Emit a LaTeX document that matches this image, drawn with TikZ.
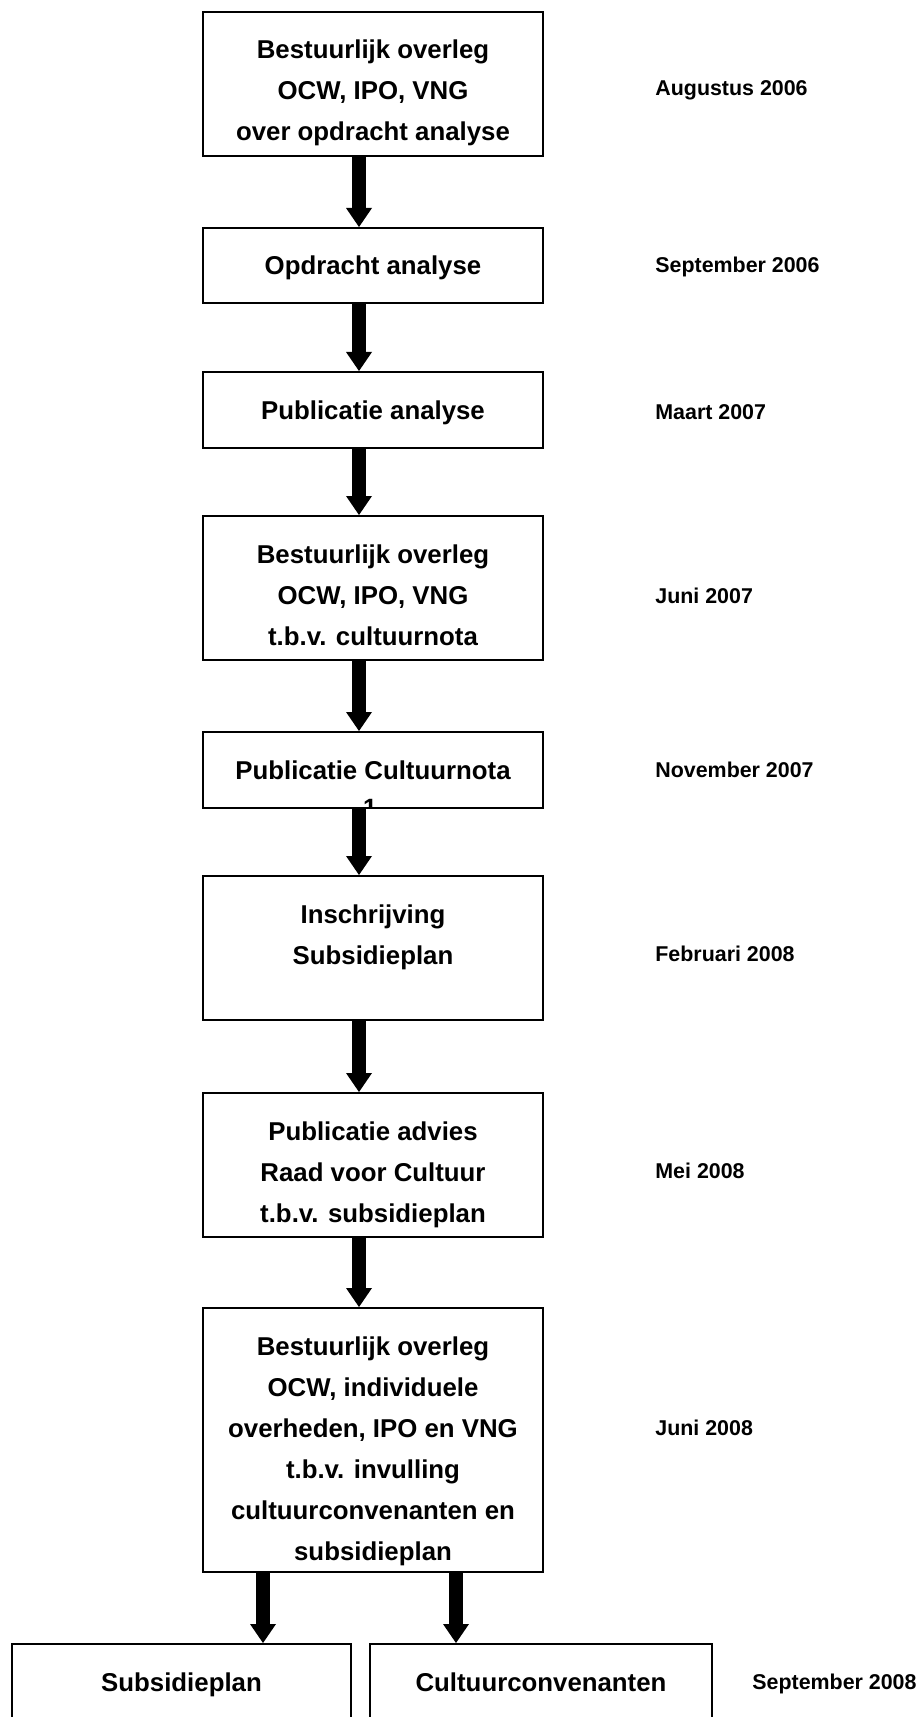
\documentclass[tikz,border=0pt]{standalone}
\usepackage{fontspec}
\setmainfont{Liberation Sans}
\usetikzlibrary{arrows.meta}
\newcommand{\vak}[3][170pt]{\parbox[c][#2][t]{#1}{\centering\rule{0pt}{23.5pt}#3}}
\begin{document}
\begin{tikzpicture}[x=.5pt,y=-.5pt,
  stepbox/.style={draw,line width=1pt,fill=white,inner sep=0pt,font=\fontsize{12.9}{20.5}\selectfont\bfseries},
  datum/.style={anchor=base west,inner sep=0pt,font=\fontsize{10.7}{13}\selectfont\bfseries},
  pijl/.style={line width=7pt,-{Triangle[width=13pt,length=9.5pt,line width=0pt]}}]
  \useasboundingbox(0,0)rectangle(919,1717);
  \clip(0,0)rectangle(919,1717);
  \node[stepbox](b1)at(373,84){\vak{72pt}{Bestuurlijk overleg\\OCW, IPO, VNG\\over opdracht analyse}};
  \node[stepbox](b2)at(373,265.5){\vak{37.5pt}{Opdracht analyse}};
  \node[stepbox](b3)at(373,410){\vak{38pt}{Publicatie analyse}};
  \node[stepbox](b4)at(373,588){\vak{72pt}{Bestuurlijk overleg\\OCW, IPO, VNG\\t.b.v. cultuurnota}};
  \node[stepbox](b5)at(373,770){\vak{38pt}{Publicatie Cultuurnota}};
  \node[stepbox](b6)at(373,948){\vak{72pt}{Inschrijving\\Subsidieplan}};
  \node[stepbox](b7)at(373,1165){\vak{72pt}{Publicatie advies\\Raad voor Cultuur\\t.b.v. subsidieplan}};
  \node[stepbox](b8)at(373,1440){\vak{132pt}{Bestuurlijk overleg\\OCW, individuele\\overheden, IPO en VNG\\t.b.v. invulling\\cultuurconvenanten en\\subsidieplan}};
  \node[stepbox](sub)at(181.5,1689){\vak[169.5pt]{45pt}{Subsidieplan}};
  \node[stepbox](conv)at(541,1689){\vak[171pt]{45pt}{Cultuurconvenanten}};
  \begin{scope}
    \clip([yshift=.5pt]b5.south west)rectangle(b5.north east);
    \node[anchor=base,inner sep=0pt,font=\fontsize{12.5}{20.5}\selectfont\bfseries](fn)at(370,816){1};
  \end{scope}
  \draw[pijl]([xshift=-7pt]b1.south)--([xshift=-7pt]b2.north);
  \draw[pijl]([xshift=-7pt]b2.south)--([xshift=-7pt]b3.north);
  \draw[pijl]([xshift=-7pt]b3.south)--([xshift=-7pt]b4.north);
  \draw[pijl]([xshift=-7pt]b4.south)--([xshift=-7pt]b5.north);
  \draw[pijl]([xshift=-7pt]b5.south)--([xshift=-7pt]b6.north);
  \draw[pijl]([xshift=-7pt]b6.south)--([xshift=-7pt]b7.north);
  \draw[pijl]([xshift=-7pt]b7.south)--([xshift=-7pt]b8.north);
  \draw[pijl]([xshift=-55pt]b8.south)--([xshift=-55pt]b8.south|-sub.north);
  \draw[pijl]([xshift=41.5pt]b8.south)--([xshift=41.5pt]b8.south|-conv.north);
  \node[datum](d1)at(655,96){Augustus 2006};
  \node[datum](d2)at(655,273){September 2006};
  \node[datum](d3)at(655,419){Maart 2007};
  \node[datum](d4)at(655,603){Juni 2007};
  \node[datum](d5)at(655,777){November 2007};
  \node[datum](d6)at(655,961){Februari 2008};
  \node[datum](d7)at(655,1178){Mei 2008};
  \node[datum](d8)at(655,1435){Juni 2008};
  \node[datum](d9)at(752,1689){September 2008};
\end{tikzpicture}
\end{document}
